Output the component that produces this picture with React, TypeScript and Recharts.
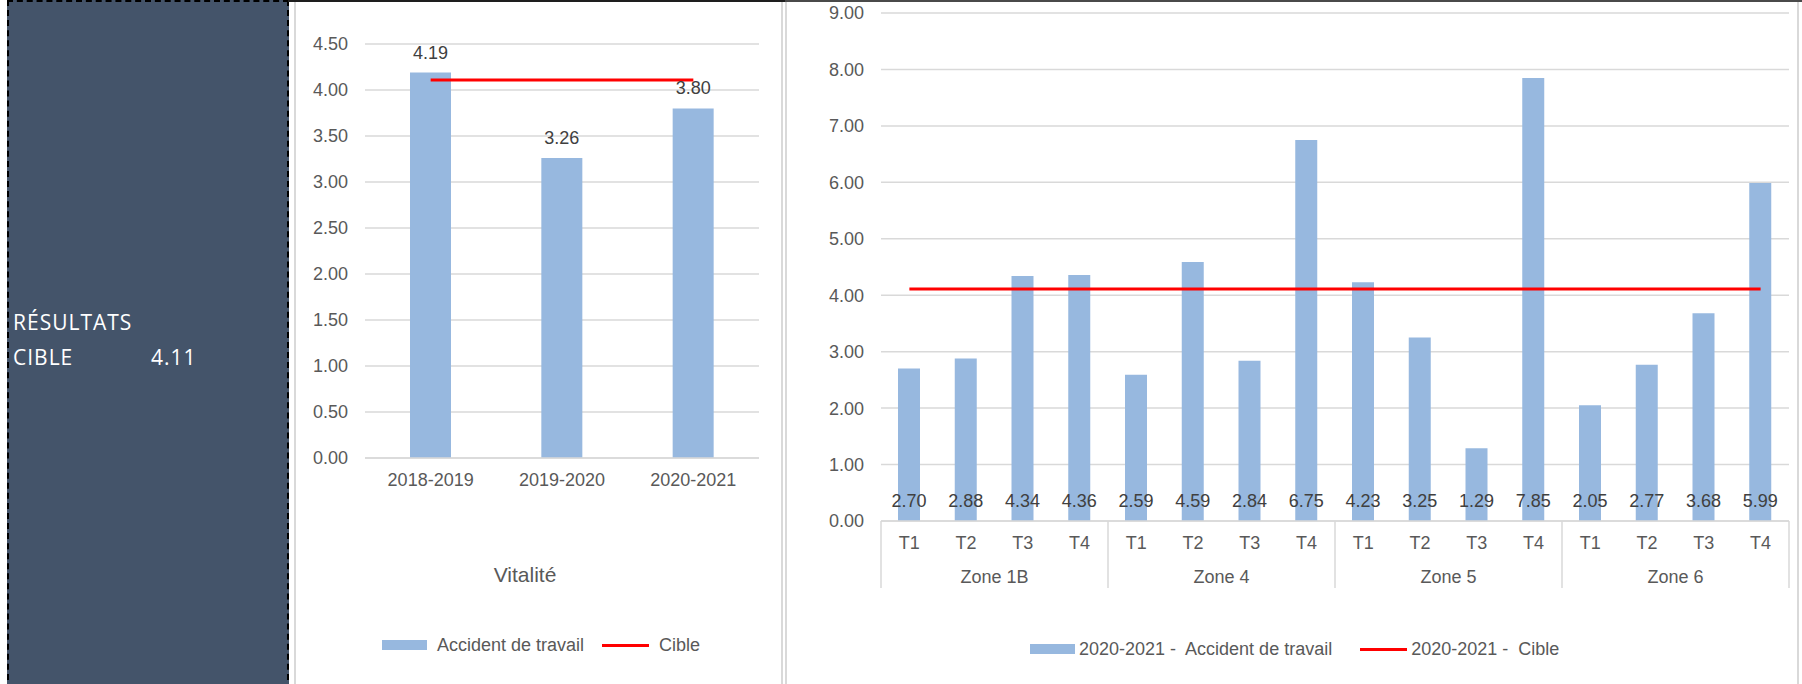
import { ComposedChart, Bar, Line, XAxis, YAxis, CartesianGrid, LabelList } from 'recharts';

// Vitalité (par année)
const periods = ['2018-2019', '2019-2020', '2020-2021'];
const vitaliteAccident = [4.19, 3.26, 3.8];
const vitaliteTicks = [0, 0.5, 1, 1.5, 2, 2.5, 3, 3.5, 4, 4.5];

// cible commune
const cibleValue = 4.11;

// 2020-2021 par zone et trimestre
const zones = ['Zone 1B', 'Zone 4', 'Zone 5', 'Zone 6'];
const quarters = ['T1', 'T2', 'T3', 'T4'];
const zoneAccident = [
  2.7, 2.88, 4.34, 4.36,
  2.59, 4.59, 2.84, 6.75,
  4.23, 3.25, 1.29, 7.85,
  2.05, 2.77, 3.68, 5.99,
];
const zoneTicks = [0, 1, 2, 3, 4, 5, 6, 7, 8, 9];

const vitaliteData = periods.map((p, i) => ({ periode: p, accident: vitaliteAccident[i], cible: cibleValue }));
const zoneData = zones.flatMap((z, zi) =>
  quarters.map((q, qi) => ({ zone: z, trimestre: q, accident: zoneAccident[zi * quarters.length + qi], cible: cibleValue }))
);

const BAR = '#97B8DF';
const RED = '#FF0000';
const GRID = '#D9D9D9';
const AXIS_TEXT = '#595959';
const LABEL_TEXT = '#404040';
const FONT = '"Liberation Sans", Arial, sans-serif';
const PANEL_FONT = '"Open Sans", sans-serif';

const MID_W = 487;
const RIGHT_W = 1010;
const RIGHT_MARGIN = { top: 13, right: 11, bottom: 83, left: 0 };
const RIGHT_YAXIS_W = 91;
const ZONE_HALF = (RIGHT_W - RIGHT_MARGIN.right - RIGHT_MARGIN.left - RIGHT_YAXIS_W) / zoneData.length / 2;

const fmt = (v: any) => Number(v).toFixed(2);

const ZoneTick = (props: any) => {
  const { x, y, payload, index } = props;
  const half = typeof payload?.offset === 'number' && payload.offset > 0 ? payload.offset : ZONE_HALF;
  const n = zoneData.length;
  const row = zoneData[index];
  return (
    <g>
      <text x={x} y={y + 22} dy="0.36em" textAnchor="middle" fill={AXIS_TEXT} fontSize={18} fontFamily={FONT}>
        {payload.value}
      </text>
      {index % quarters.length === 0 && (
        <line x1={x - half} x2={x - half} y1={y} y2={y + 67} stroke={GRID} strokeWidth={1.5} />
      )}
      {index === n - 1 && <line x1={x + half} x2={x + half} y1={y} y2={y + 67} stroke={GRID} strokeWidth={1.5} />}
      {index % quarters.length === 1 && row && (
        <text x={x + half} y={y + 56} dy="0.36em" textAnchor="middle" fill={AXIS_TEXT} fontSize={18} fontFamily={FONT}>
          {row.zone}
        </text>
      )}
    </g>
  );
};

const LegendItems = ({ left, top, items, gapText }: { left: number; top: number; items: { label: string; kind: 'bar' | 'line'; gapAfter: number }[]; gapText: number }) => (
  <div style={{ position: 'absolute', left, top, display: 'flex', alignItems: 'center', height: 20, fontFamily: FONT, fontSize: 18, color: AXIS_TEXT, whiteSpace: 'pre' }}>
    {items.map((it) => (
      <div key={it.label} style={{ display: 'flex', alignItems: 'center', marginRight: it.gapAfter }}>
        {it.kind === 'bar' ? (
          <span style={{ width: 45, height: 10, background: BAR, display: 'inline-block' }} />
        ) : (
          <span style={{ width: 47, height: 3, background: RED, display: 'inline-block' }} />
        )}
        <span style={{ marginLeft: gapText, lineHeight: '20px' }}>{it.label}</span>
      </div>
    ))}
  </div>
);

const panelText = { position: 'absolute' as const, color: '#fff', fontFamily: PANEL_FONT, fontSize: 21, lineHeight: '26px', letterSpacing: 1 };

export default function App() {
  return (
    <div style={{ position: 'absolute', left: 0, top: 0, width: 1802, height: 684, overflow: 'hidden', background: '#fff', fontFamily: FONT }}>
      {/* panneau gauche */}
      <div style={{ position: 'absolute', left: 7, top: 0, width: 282, height: 700, boxSizing: 'border-box', background: '#44546A', border: '2px dashed #000' }} />
      <div style={{ ...panelText, left: 13, top: 309 }}>RÉSULTATS</div>
      <div style={{ ...panelText, left: 13, top: 344 }}>CIBLE</div>
      <div style={{ ...panelText, left: 151, top: 344 }}>{cibleValue.toFixed(2)}</div>

      {/* cadres */}
      <div style={{ position: 'absolute', left: 288, top: 0, width: 497, height: 2, background: '#1e1e1e' }} />
      <div style={{ position: 'absolute', left: 785, top: 0, width: 1017, height: 2, background: '#4a4a4a' }} />
      <div style={{ position: 'absolute', left: 294, top: 2, width: 2, height: 682, background: GRID }} />
      <div style={{ position: 'absolute', left: 781, top: 2, width: 2, height: 682, background: GRID }} />
      <div style={{ position: 'absolute', left: 785, top: 2, width: 2, height: 682, background: GRID }} />
      <div style={{ position: 'absolute', left: 1797, top: 2, width: 2, height: 682, background: GRID }} />

      {/* Vitalité */}
      <div style={{ position: 'absolute', left: 295, top: 0 }}>
        <ComposedChart width={MID_W} height={684} data={vitaliteData} margin={{ top: 44, right: 23, bottom: 196, left: 0 }}>
          <CartesianGrid horizontal vertical={false} stroke={GRID} strokeWidth={1.5} />
          <XAxis
            dataKey="periode"
            height={30}
            interval={0}
            axisLine={{ stroke: GRID, strokeWidth: 1.5 }}
            tickLine={false}
            tickSize={0}
            tickMargin={15}
            tick={{ fill: AXIS_TEXT, fontSize: 18, fontFamily: FONT }}
          />
          <YAxis
            width={70}
            domain={[0, 4.5]}
            ticks={vitaliteTicks}
            tickFormatter={fmt}
            axisLine={false}
            tickLine={false}
            tickSize={0}
            tickMargin={17}
            tick={{ fill: AXIS_TEXT, fontSize: 18, fontFamily: FONT }}
          />
          <Bar dataKey="accident" fill={BAR} barSize={41} isAnimationActive={false}>
            <LabelList dataKey="accident" position="top" offset={14} formatter={fmt} fill={LABEL_TEXT} fontSize={18} fontFamily={FONT} />
          </Bar>
          <Line type="linear" dataKey="cible" stroke={RED} strokeWidth={3} dot={false} activeDot={false} isAnimationActive={false} />
        </ComposedChart>
      </div>
      <div style={{ position: 'absolute', left: 425, top: 561, width: 200, textAlign: 'center', fontSize: 21, lineHeight: '28px', color: AXIS_TEXT }}>
        Vitalité
      </div>
      <LegendItems
        left={382}
        top={635}
        gapText={10}
        items={[
          { label: 'Accident de travail', kind: 'bar', gapAfter: 18 },
          { label: 'Cible', kind: 'line', gapAfter: 0 },
        ]}
      />

      {/* 2020-2021 par zone */}
      <div style={{ position: 'absolute', left: 790, top: 0 }}>
        <ComposedChart width={RIGHT_W} height={684} data={zoneData} margin={RIGHT_MARGIN}>
          <CartesianGrid horizontal vertical={false} stroke={GRID} strokeWidth={1.5} />
          <XAxis
            dataKey="trimestre"
            height={80}
            interval={0}
            axisLine={{ stroke: GRID, strokeWidth: 1.5 }}
            tickLine={false}
            tickSize={0}
            tickMargin={0}
            tick={<ZoneTick />}
          />
          <YAxis
            width={RIGHT_YAXIS_W}
            domain={[0, 9]}
            ticks={zoneTicks}
            tickFormatter={fmt}
            axisLine={false}
            tickLine={false}
            tickSize={0}
            tickMargin={17}
            tick={{ fill: AXIS_TEXT, fontSize: 18, fontFamily: FONT }}
          />
          <Bar dataKey="accident" fill={BAR} barSize={22} isAnimationActive={false}>
            <LabelList dataKey="accident" position="insideBottom" offset={14} formatter={fmt} fill={LABEL_TEXT} fontSize={18} fontFamily={FONT} />
          </Bar>
          <Line type="linear" dataKey="cible" stroke={RED} strokeWidth={3} dot={false} activeDot={false} isAnimationActive={false} />
        </ComposedChart>
      </div>
      <LegendItems
        left={1030}
        top={639}
        gapText={4}
        items={[
          { label: '2020-2021 -  Accident de travail', kind: 'bar', gapAfter: 28 },
          { label: '2020-2021 -  Cible', kind: 'line', gapAfter: 0 },
        ]}
      />
    </div>
  );
}
